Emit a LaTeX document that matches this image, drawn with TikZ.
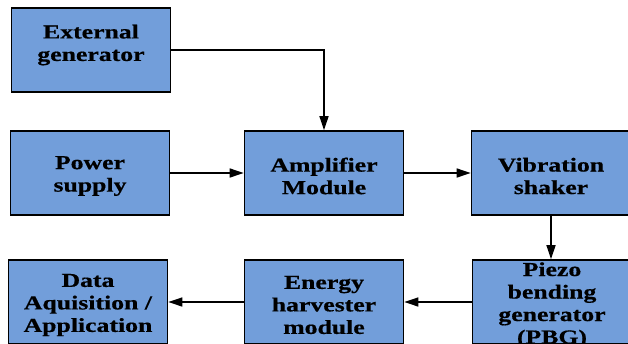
\documentclass[tikz,border=0pt]{standalone}
\usepackage{fontspec}
\setmainfont{Liberation Serif}[FakeStretch=1.3,BoldFeatures={FakeBold=0.6}]
\usetikzlibrary{arrows.meta}
\definecolor{boxblue}{RGB}{114,158,218}
\begin{document}
\begin{tikzpicture}[x=1pt,y=1pt,
  blk/.style={draw=black,line width=1.6pt,fill=boxblue,minimum width=159pt,minimum height=84pt,inner sep=0pt},
  txt/.style={inner sep=0pt,align=center,yshift=-3pt,font=\fontsize{19.8}{22.5}\selectfont\bfseries},
  conn/.style={line width=1.4pt,-{Triangle[length=14pt,width=9pt]}}]
\useasboundingbox (0,0) rectangle (628,-343);
\node[blk] (ext) at (91,-50) {};
\node[txt] (extt) at (91,-42) {External\\generator};
\node[blk,label={[txt]center:{Power\\supply}}] (pow) at (90,-173) {};
\node[blk,label={[txt]center:{Amplifier\\Module}}] (amp) at (324,-173) {};
\node[blk,label={[txt]center:{Vibration\\shaker}}] (vib) at (551,-173) {};
\node[blk,label={[txt]center:{Data\\Aquisition /\\Application}}] (data) at (88,-302) {};
\node[blk,label={[txt]center:{Energy\\harvester\\module}}] (eng) at (324,-302) {};
\node[blk,label={[txt]center:{Piezo\\bending\\generator\\(PBG)}}] (pbg) at (552,-302) {};
\draw[conn] (ext.east) -| (amp.north);
\draw[conn] (pow) -- (amp);
\draw[conn] (amp) -- (vib);
\draw[conn] (vib.south) -- (vib.south |- pbg.north);
\draw[conn] (pbg) -- (eng);
\draw[conn] (eng) -- (data);
\end{tikzpicture}
\end{document}
